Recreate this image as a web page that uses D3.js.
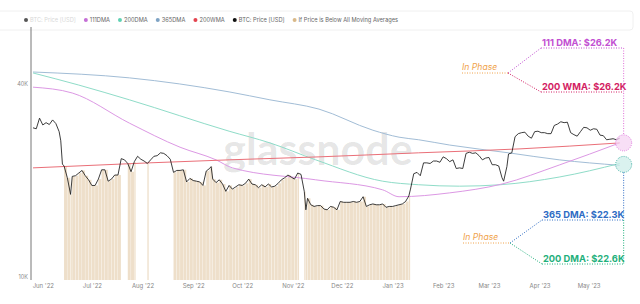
<!DOCTYPE html>
<html>
<head>
<meta charset="utf-8">
<script src="https://cdn.jsdelivr.net/npm/d3@7"></script>
<style>
  body { margin: 0; background: #fff; }
  svg { display: block; font-family: Inter, "Noto Sans", sans-serif; }
</style>
</head>
<body>
<div class="canvas"></div>
<script>
// BTC daily-ish closes (USD)
const priceDates = [
  "2022-05-26","2022-05-28","2022-05-30","2022-06-01","2022-06-03","2022-06-05","2022-06-07","2022-06-09",
  "2022-06-11","2022-06-12","2022-06-13","2022-06-14","2022-06-16","2022-06-18","2022-06-19","2022-06-21",
  "2022-06-23","2022-06-25","2022-06-27","2022-06-29","2022-07-01","2022-07-03","2022-07-05","2022-07-07",
  "2022-07-09","2022-07-11","2022-07-13","2022-07-15","2022-07-17","2022-07-19","2022-07-21","2022-07-23",
  "2022-07-25","2022-07-27","2022-07-29","2022-07-31","2022-08-02","2022-08-04","2022-08-06","2022-08-08",
  "2022-08-10","2022-08-12","2022-08-14","2022-08-16","2022-08-18","2022-08-20","2022-08-22","2022-08-24",
  "2022-08-26","2022-08-28","2022-08-30","2022-09-01","2022-09-03","2022-09-05","2022-09-07","2022-09-09",
  "2022-09-11","2022-09-12","2022-09-13","2022-09-15","2022-09-17","2022-09-19","2022-09-21","2022-09-23",
  "2022-09-25","2022-09-27","2022-09-29","2022-10-01","2022-10-03","2022-10-05","2022-10-07","2022-10-09",
  "2022-10-11","2022-10-13","2022-10-15","2022-10-17","2022-10-19","2022-10-21","2022-10-23","2022-10-25",
  "2022-10-27","2022-10-29","2022-10-31","2022-11-02","2022-11-04","2022-11-06","2022-11-08","2022-11-09",
  "2022-11-10","2022-11-12","2022-11-14","2022-11-16","2022-11-18","2022-11-20","2022-11-22","2022-11-24",
  "2022-11-26","2022-11-28","2022-11-30","2022-12-02","2022-12-04","2022-12-06","2022-12-08","2022-12-10",
  "2022-12-12","2022-12-14","2022-12-16","2022-12-18","2022-12-20","2022-12-22","2022-12-24","2022-12-26",
  "2022-12-28","2022-12-30","2023-01-01","2023-01-03","2023-01-05","2023-01-07","2023-01-09","2023-01-11",
  "2023-01-12","2023-01-14","2023-01-16","2023-01-18","2023-01-20","2023-01-22","2023-01-24","2023-01-26",
  "2023-01-28","2023-01-30","2023-02-01","2023-02-03","2023-02-05","2023-02-07","2023-02-09","2023-02-11",
  "2023-02-13","2023-02-15","2023-02-17","2023-02-19","2023-02-21","2023-02-23","2023-02-25","2023-02-27",
  "2023-03-01","2023-03-03","2023-03-05","2023-03-07","2023-03-09","2023-03-10","2023-03-12","2023-03-13",
  "2023-03-15","2023-03-17","2023-03-19","2023-03-21","2023-03-23","2023-03-25","2023-03-27","2023-03-29",
  "2023-03-31","2023-04-02","2023-04-04","2023-04-06","2023-04-08","2023-04-10","2023-04-12","2023-04-14",
  "2023-04-16","2023-04-18","2023-04-20","2023-04-22","2023-04-24","2023-04-26","2023-04-28","2023-04-30",
  "2023-05-02","2023-05-04","2023-05-06","2023-05-08","2023-05-10","2023-05-12","2023-05-14","2023-05-16",
  "2023-05-18","2023-05-20"
]
const priceValues = [
  29200,29000,31300,29800,30300,29900,30900,30100,
  28400,26600,22500,22200,20400,18100,20600,20700,
  21100,21500,20700,20100,19300,19300,20200,21600,
  21600,19900,20200,20800,20800,23400,23200,22600,
  21300,22900,23800,23300,23000,22600,23200,23800,
  23900,24400,24300,23900,23300,21200,21500,21500,
  21600,19800,20300,20000,19900,19800,19300,21400,
  21800,22100,20200,19700,20100,19500,18500,19300,
  18800,19100,19400,19300,19600,20200,19500,19400,
  19000,19400,19100,19500,19100,19200,19600,20100,
  20400,20800,20500,20200,21100,20900,18500,16200,
  17600,16800,16600,16700,16700,16300,16200,16600,
  16500,16200,17200,17100,17100,17100,17200,17100,
  17200,17800,16600,16800,16900,16800,16800,16900,
  16500,16600,16600,16700,16800,16900,17200,17900,
  18800,21000,21200,20700,22700,22700,22600,23000,
  23000,22800,23700,23400,22900,23200,21800,21900,
  21800,24300,24500,24300,24400,23900,23200,23500,
  23600,22400,22400,22200,20400,19900,22100,24200,
  24400,27400,28000,28200,28300,27500,27100,28400,
  28500,28200,28200,28000,28000,29700,30000,30500,
  30300,30400,28200,27800,27500,28400,29300,29200,
  28700,29000,28900,27700,27600,26800,26900,27000,
  26800,27100
]

const ma111Dates = ["2022-05-26","2022-06-19","2022-07-24","2022-08-24","2022-09-15","2022-09-25","2022-11-15","2022-12-26","2023-01-05","2023-02-05","2023-03-09","2023-04-13","2023-05-20"]
const ma111Values = [39100,37500,30200,25400,23200,21900,20100,18700,17800,18300,19500,22350,26200]

const ma200Dates = ["2022-05-26","2022-06-23","2022-07-24","2022-09-23","2022-10-18","2022-11-15","2022-12-26","2023-01-17","2023-02-11","2023-03-08","2023-04-13","2023-05-20"]
const ma200Values = [43300,39700,35700,28500,26200,23200,19900,19400,19200,19400,20500,22600]

const ma365Dates = ["2022-05-26","2022-07-24","2022-09-23","2022-10-18","2022-11-17","2022-12-20","2023-01-05","2023-01-17","2023-02-05","2023-03-13","2023-04-13","2023-05-20"]
const ma365Values = [43600,41800,37800,35700,33400,28700,27300,26800,25800,24400,23200,22300]

const wma200Dates = ["2022-05-26","2022-08-05","2022-09-23","2022-11-17","2023-01-17","2023-03-20","2023-05-20"]
const wma200Values = [21900,22700,23200,23700,24400,25100,26200]

// periods where price sits below all moving averages
const belowPeriods = [
  ["2022-06-14","2022-07-18"],
  ["2022-07-23","2022-07-27"],
  ["2022-08-04","2022-08-04"],
  ["2022-08-20","2022-11-04"],
  ["2022-11-08","2023-01-11"]
]

const monthTicks = ["2022-06-01","2022-07-01","2022-08-01","2022-09-01","2022-10-01","2022-11-01","2022-12-01","2023-01-01","2023-02-01","2023-03-01","2023-04-01","2023-05-01"]
const yTicks = [10000, 40000]

const legendItems = [
  { label: "BTC: Price [USD]", color: "#555", off: true },
  { label: "111DMA", color: "#c56fd6" },
  { label: "200DMA", color: "#5fd1b3" },
  { label: "365DMA", color: "#7ea3c4" },
  { label: "200WMA", color: "#e3434f" },
  { label: "BTC: Price [USD]", color: "#111" },
  { label: "If Price is Below All Moving Averages", color: "#d9b98a" }
]

const parse = d3.utcParse("%Y-%m-%d")
const W = 640, H = 304
const plotBottom = 280

const svg = d3.select('.canvas')
  .append('svg')
  .attr('width', W)
  .attr('height', H)
  .attr('viewBox', `0 0 ${W} ${H}`)

const xScale = d3.scaleUtc()
  .domain([parse("2022-05-26"), parse("2023-05-30")])
  .range([33, 636])
const yScale = d3.scaleLog()
  .domain([10000, 40000])
  .range([277, 84])

// legend card
svg.append('rect')
  .attr('x', -4).attr('y', 11).attr('width', 637).attr('height', 19).attr('rx', 3)
  .attr('fill', 'none').attr('stroke', '#f0f0f0')

// watermark
svg.append('text')
  .attr('x', 318).attr('y', 165)
  .attr('text-anchor', 'middle')
  .attr('font-family', 'Lato, Inter, sans-serif')
  .attr('font-weight', 700)
  .attr('font-size', 43)
  .attr('fill', '#000').attr('fill-opacity', 0.11)
  .text('glassnode')

// below-all-MA bars
const price = priceDates.map((d, i) => ({ date: parse(d), value: priceValues[i] }))
const bars = []
belowPeriods.forEach(([s, e]) => {
  const start = parse(s), end = d3.utcDay.offset(parse(e), 1)
  const pts = price.filter(p => p.date >= start && p.date < end)
  pts.forEach((p, i) => {
    const next = i < pts.length - 1 ? pts[i + 1].date : d3.min([end, d3.utcDay.offset(p.date, 2)])
    bars.push({ date: p.date, next, value: p.value })
  })
})
svg.append('g').selectAll('rect')
  .data(bars)
  .enter().append('rect')
    .attr('x', d => xScale(d.date))
    .attr('width', d => Math.max(0.8, xScale(d.next) - xScale(d.date) - 0.35))
    .attr('y', d => yScale(d.value))
    .attr('height', d => plotBottom - yScale(d.value))
    .attr('fill', '#eedfca')

// moving average lines
const maLine = d3.line()
  .x(d => xScale(d.date))
  .y(d => yScale(d.value))
  .curve(d3.curveMonotoneX)
const series = [
  { dates: ma365Dates, values: ma365Values, color: "#a2bdd6" },
  { dates: ma200Dates, values: ma200Values, color: "#8fdcc8" },
  { dates: ma111Dates, values: ma111Values, color: "#dc98e4" },
  { dates: wma200Dates, values: wma200Values, color: "#ea6f78" }
]
series.forEach(s => {
  svg.append('path')
    .datum(s.dates.map((d, i) => ({ date: parse(d), value: s.values[i] })))
    .attr('fill', 'none')
    .attr('stroke', s.color)
    .attr('stroke-width', 1)
    .attr('d', maLine)
})

// price line
svg.append('path')
  .datum(price)
  .attr('fill', 'none')
  .attr('stroke', '#1a1a1a')
  .attr('stroke-width', 0.85)
  .attr('d', d3.line().x(d => xScale(d.date)).y(d => yScale(d.value)))

// axes
svg.append('line')
  .attr('x1', 31).attr('x2', 31).attr('y1', 27).attr('y2', plotBottom)
  .attr('stroke', '#777').attr('stroke-width', 1)

const yAxis = d3.axisLeft(yScale).tickValues(yTicks).tickSize(0).tickPadding(3)
  .tickFormat(d => (d / 1000) + "K")
const yAxisGroup = svg.append('g').attr('transform', 'translate(31,0)').call(yAxis)
yAxisGroup.select('.domain').remove()
yAxisGroup.selectAll('text').attr('font-size', 5.5).attr('fill', '#888').attr('font-family', 'Inter, sans-serif')

const xAxis = d3.axisBottom(xScale).tickValues(monthTicks.map(parse)).tickSize(0).tickPadding(4)
  .tickFormat(d3.utcFormat("%b '%y"))
const xAxisGroup = svg.append('g').attr('transform', `translate(0,${plotBottom})`).call(xAxis)
xAxisGroup.select('.domain').remove()
xAxisGroup.selectAll('text').attr('font-size', 6).attr('fill', '#888').attr('font-family', 'Inter, sans-serif')

// legend
let lx = 26
legendItems.forEach(item => {
  svg.append('circle').attr('cx', lx).attr('cy', 20).attr('r', 2).attr('fill', item.color)
  const t = svg.append('text')
    .attr('x', lx + 4).attr('y', 22)
    .attr('font-size', 5.7)
    .attr('fill', item.off ? '#d8d8d8' : '#666')
    .text(item.label)
  lx += 4 + t.node().getComputedTextLength() + 10
})

// end-of-series markers
const endDate = parse(ma111Dates[ma111Dates.length - 1])
const cx = xScale(endDate) + 4
const topCy = yScale(wma200Values[wma200Values.length - 1])
const lowCy = yScale((ma200Values[ma200Values.length - 1] + ma365Values[ma365Values.length - 1]) / 2)

svg.append('circle').attr('cx', cx).attr('cy', topCy).attr('r', 8)
  .attr('fill', '#f6d4f3').attr('fill-opacity', 0.75)
  .attr('stroke', '#e07ee0').attr('stroke-dasharray', '1,1.2')
svg.append('circle').attr('cx', cx).attr('cy', lowCy).attr('r', 8)
  .attr('fill', '#cdeee9').attr('fill-opacity', 0.75)
  .attr('stroke', '#48b4a8').attr('stroke-dasharray', '1,1.2')

// annotation callouts
const dot = (x1, y1, x2, y2, color) => svg.append('line')
  .attr('x1', x1).attr('y1', y1).attr('x2', x2).attr('y2', y2)
  .attr('stroke', color).attr('stroke-width', 1).attr('stroke-dasharray', '1,1.5')
const label = (x, y, text, color, bold, italic) => svg.append('text')
  .attr('x', x).attr('y', y)
  .attr('font-size', bold ? 9.3 : 8.6)
  .attr('font-weight', bold ? 700 : 400)
  .attr('font-style', italic ? 'italic' : 'normal')
  .attr('fill', color)
  .text(text)

const cViolet = "#c24fd2", cCrimson = "#d31e63", cBlue = "#2e6cc4", cGreen = "#1fb07c", cOrange = "#f0a24a"

// upper group
label(462, 70, "In Phase", cOrange, false, true)
dot(462, 73, 508, 73, cOrange)
dot(508, 73, 541, 48, cViolet)
dot(508, 73, 541, 92, cCrimson)
label(542, 46, "111 DMA: $26.2K", cViolet, true)
label(542, 90, "200 WMA: $26.2K", cCrimson, true)
dot(541, 48, cx, 48, cViolet)
dot(541, 92, cx, 92, cCrimson)
dot(cx, 48, cx, topCy - 8, "#e070d8")

// lower group
label(463, 240, "In Phase", cOrange, false, true)
dot(463, 243, 510, 243, cOrange)
dot(510, 243, 542, 220, cBlue)
dot(510, 243, 542, 264, cGreen)
label(543, 218, "365 DMA: $22.3K", cBlue, true)
label(543, 262, "200 DMA: $22.6K", cGreen, true)
dot(542, 220, cx, 220, cBlue)
dot(542, 264, cx, 264, cGreen)
dot(cx, lowCy + 8, cx, 220, cBlue)
dot(cx, 220, cx, 264, cGreen)
</script>
</body>
</html>
